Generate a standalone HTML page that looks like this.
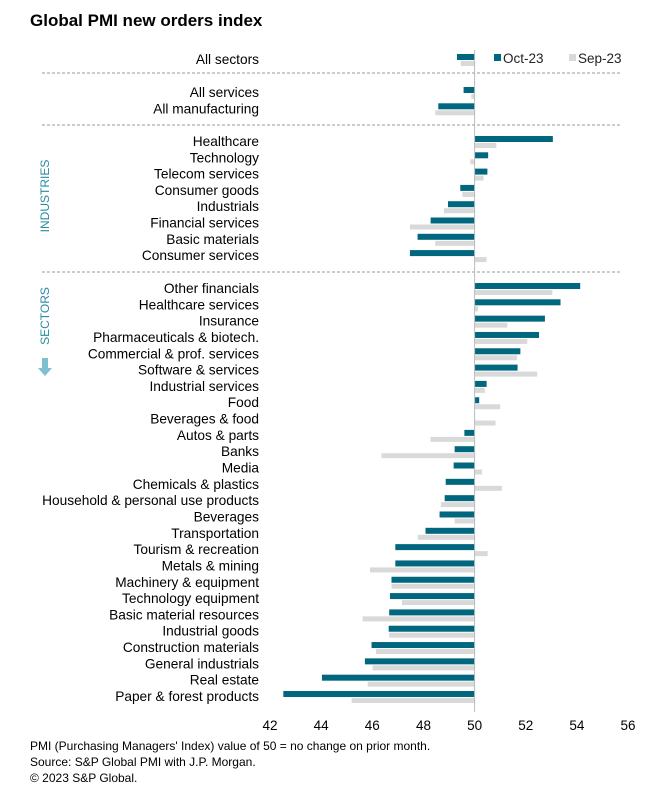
<!DOCTYPE html>
<html><head><meta charset="utf-8"><style>
body{margin:0;background:#fff;font-family:"Liberation Sans",Arial,sans-serif;}
svg text{font-family:"Liberation Sans",Arial,sans-serif;}
</style></head><body>
<svg id="chart" width="672" height="795" viewBox="0 0 672 795">
<text x="30" y="26" font-size="17" font-weight="bold" fill="#000">Global PMI new orders index</text>
<g id="grid"></g><g id="bars"></g><g id="labels"></g><g id="axis"></g>
<g>
<rect x="494" y="54" width="7" height="7" fill="#00677f"/>
<text x="503" y="63" font-size="13.5" fill="#222">Oct-23</text>
<rect x="569" y="54" width="7" height="7" fill="#d9d9d9"/>
<text x="578" y="63" font-size="13.5" fill="#222">Sep-23</text>
</g>
<text transform="translate(49,196) rotate(-90)" text-anchor="middle" font-size="12" fill="#2a8ca3">INDUSTRIES</text>
<text transform="translate(49,316) rotate(-90)" text-anchor="middle" font-size="12" fill="#2a8ca3">SECTORS</text>
<path d="M42,358 h6 v10 h4 l-7,8 l-7,-8 h4 z" fill="#7fbfcf"/>
<text x="30" y="750" font-size="12" fill="#000">PMI (Purchasing Managers' Index) value of 50 = no change on prior month.</text>
<text x="30" y="766" font-size="12" fill="#000">Source: S&amp;P Global PMI with J.P. Morgan.</text>
<text x="30" y="782" font-size="12" fill="#000">© 2023 S&amp;P Global.</text>
</svg>
<script>
const categories=["All sectors","All services","All manufacturing","Healthcare","Technology","Telecom services","Consumer goods","Industrials","Financial services","Basic materials","Consumer services","Other financials","Healthcare services","Insurance","Pharmaceuticals & biotech.","Commercial & prof. services","Software & services","Industrial services","Food","Beverages & food","Autos & parts","Banks","Media","Chemicals & plastics","Household & personal use products","Beverages","Transportation","Tourism & recreation","Metals & mining","Machinery & equipment","Technology equipment","Basic material resources","Industrial goods","Construction materials","General industrials","Real estate","Paper & forest products"];
const oct23=[49.31,49.57,48.58,53.06,50.53,50.5,49.44,48.96,48.28,47.77,47.47,54.13,53.36,52.75,52.52,51.79,51.68,50.47,50.18,50.0,49.6,49.22,49.18,48.87,48.83,48.63,48.08,46.9,46.9,46.75,46.69,46.66,46.64,45.97,45.71,44.03,42.52];
const sep23=[49.46,49.87,48.46,50.85,49.83,50.35,49.52,48.8,47.47,48.46,50.47,53.04,50.13,51.28,52.06,51.66,52.45,50.4,51.0,50.82,48.28,46.36,50.29,51.07,48.68,49.22,47.78,50.51,45.91,46.75,47.16,45.62,46.66,46.14,46.01,45.82,45.19];
const ticks=[42,44,46,48,50,52,54,56];
const NS="http://www.w3.org/2000/svg";
function x(v){return 474.6+(v-50)*25.57;}
function rowY(i){if(i===0)return 60;if(i<3)return 93+(i-1)*16.3;if(i<11)return 142+(i-3)*16.3;return 289+(i-11)*16.32;}
function mk(t,a,p){const e=document.createElementNS(NS,t);for(const k in a)e.setAttribute(k,a[k]);document.getElementById(p).appendChild(e);return e;}
[73,125,272].forEach(function(y,j){
 const l=mk("line",{x1:42,x2:622,y1:y,y2:y,stroke:"#999","stroke-dasharray":"3,2","stroke-width":1},"grid");
 
 
});
categories.forEach(function(c,i){
 const cy=rowY(i);
 const o=oct23[i],s=sep23[i];
 const r1=mk("rect",{x:Math.min(x(o),x(50)),y:cy-6,width:Math.abs(x(o)-x(50)),height:6,fill:"#00677f"},"bars");
 
 
 const r2=mk("rect",{x:Math.min(x(s),x(50)),y:cy+1,width:Math.abs(x(s)-x(50)),height:5,fill:"#d9d9d9"},"bars");
 
 
 const t=mk("text",{x:259,y:cy+4,"text-anchor":"end","font-size":13.7,fill:"#000"},"labels");
 t.textContent=c;
 
 
});
const zl=mk("line",{x1:x(50),x2:x(50),y1:50,y2:712,stroke:"#bbb","stroke-width":1},"axis");


ticks.forEach(function(v){
 const t=mk("text",{x:x(v),y:730,"text-anchor":"middle","font-size":13.5,fill:"#000"},"axis");
 t.textContent=v;
 
 
});
</script>
</body></html>
